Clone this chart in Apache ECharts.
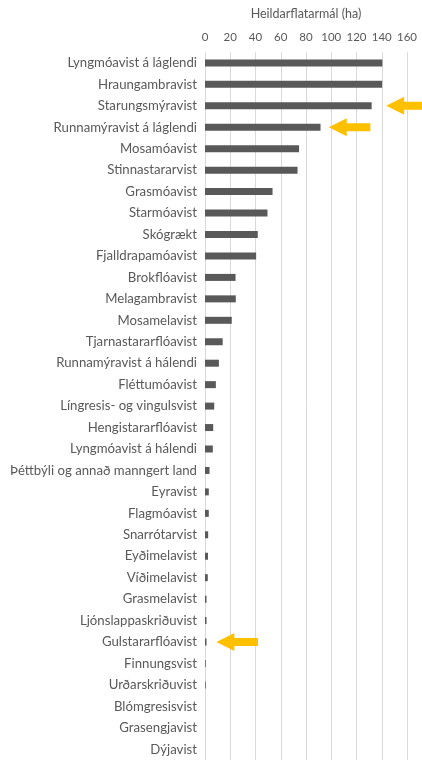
<!DOCTYPE html>
<html>
<head>
<meta charset="utf-8">
<script src="https://cdn.jsdelivr.net/npm/echarts@6/dist/echarts.min.js"></script>
<style>
html,body{margin:0;padding:0;background:#fff;}
#c{width:422px;height:760px;}
</style>
</head>
<body>
<div id="c"></div>
<script>
const categories = [
  'Lyngmóavist á láglendi','Hraungambravist','Starungsmýravist','Runnamýravist á láglendi',
  'Mosamóavist','Stinnastararvist','Grasmóavist','Starmóavist','Skógrækt','Fjalldrapamóavist',
  'Brokflóavist','Melagambravist','Mosamelavist','Tjarnastararflóavist','Runnamýravist á hálendi',
  'Fléttumóavist','Língresis- og vingulsvist','Hengistararflóavist','Lyngmóavist á hálendi',
  'Þéttbýli og annað manngert land','Eyravist','Flagmóavist','Snarrótarvist','Eyðimelavist',
  'Víðimelavist','Grasmelavist','Ljónslappaskriðuvist','Gulstararflóavist','Finnungsvist',
  'Urðarskriðuvist','Blómgresisvist','Grasengjavist','Dýjavist'
];
const areaHa = [
  140.5,140.3,132,91.5,
  74.5,73.3,53.5,49.5,41.8,40.5,
  24.2,24.4,21.2,14,11,
  8.6,7.3,6.5,6.2,
  3.6,3,3,2.5,2.4,
  2.2,1.2,1.2,1.2,0.6,
  0.6,0,0,0
];
const axisTitle = 'Heildarflatarmál (ha)';
const axisMin = 0, axisMax = 160, axisStep = 20;
// highlighted categories (arrow annotations)
const highlighted = ['Starungsmýravist','Runnamýravist á láglendi','Gulstararflóavist'];

const FONT = 'Lato';
const TXT = '#595959';
const chart = echarts.init(document.getElementById('c'), null, {renderer:'canvas'});
chart.setOption({
  animation:false,
  backgroundColor:'#fff',
  grid:{left:205, right:15, top:52.2, height:710.5, containLabel:false},
  xAxis:{
    type:'value', position:'top', min:axisMin, max:axisMax, interval:axisStep,
    name:axisTitle, nameLocation:'middle', nameGap:32,
    nameTextStyle:{color:TXT, fontFamily:FONT, fontSize:12.5},
    axisLine:{show:false}, axisTick:{show:false},
    axisLabel:{color:TXT, fontFamily:FONT, fontSize:11.5, margin:9},
    splitLine:{show:true, lineStyle:{color:'#d9d9d9', width:1}}
  },
  yAxis:{
    type:'category', data:categories, inverse:true,
    axisLine:{show:false}, axisTick:{show:false},
    axisLabel:{color:TXT, fontFamily:FONT, fontSize:13.2, margin:8}
  },
  series:[{
    type:'bar', data:areaHa, barWidth:7,
    itemStyle:{color:'#595959'}
  }]
});

// Arrow annotations pointing at highlighted bars
function arrow(tipX, tailX, y){
  const hl = 18, hh = 9, sh = 4;
  return {
    type:'polygon', z:100,
    shape:{points:[[tipX,y],[tipX+hl,y-hh],[tipX+hl,y-sh],[tailX,y-sh],[tailX,y+sh],[tipX+hl,y+sh],[tipX+hl,y+hh]]},
    style:{fill:'#FFC000'}
  };
}
const arrowSpec = [
  {cat:highlighted[0], tip:143.5, tail:175},
  {cat:highlighted[1], tip:98, tail:131},
  {cat:highlighted[2], tip:9, tail:42}
];
const graphics = arrowSpec.map(a=>{
  const p1 = chart.convertToPixel({gridIndex:0},[a.tip,a.cat]);
  const p2 = chart.convertToPixel({gridIndex:0},[a.tail,a.cat]);
  return arrow(p1[0], p2[0], p1[1]);
});
chart.setOption({graphic:graphics});
</script>
</body>
</html>
